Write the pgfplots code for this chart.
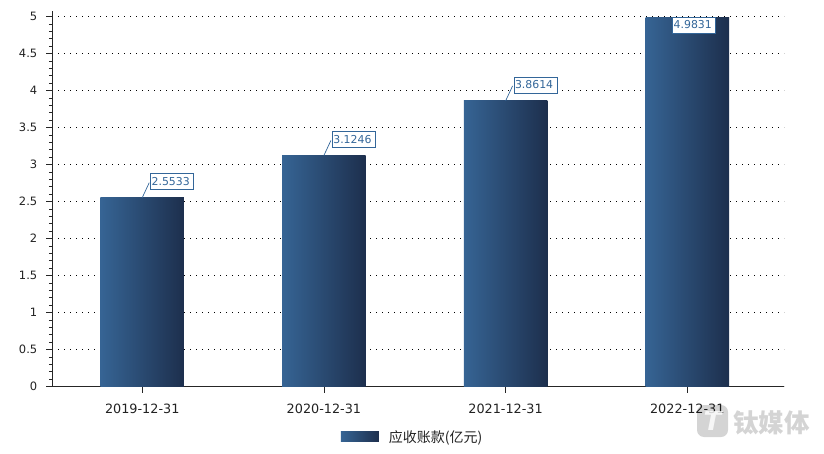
\documentclass[border=0pt]{standalone}
\usepackage{fontspec}
\usepackage{pgfplots}
\pgfplotsset{compat=1.18}
\setmainfont{DejaVu Sans}
\newfontfamily\cjk{Noto Sans CJK SC}
\definecolor{barL}{HTML}{366494}
\definecolor{barR}{HTML}{1D2F4D}
\definecolor{lab}{HTML}{336699}
\definecolor{txt}{HTML}{222222}
\begin{document}
\begin{tikzpicture}[x=1pt,y=1pt]
\path[use as bounding box] (0,0) rectangle (824,453);
\begin{axis}[
  at={(52.3pt,66.4pt)}, anchor=south west,
  scale only axis, width=732pt, height=376pt,
  xmin=-0.495, xmax=3.534, ymin=0, ymax=5.082,
  axis x line=bottom, axis y line=left,
  axis line style={-, line width=0.9pt, color=black!85},
  clip=false,
  ybar, bar width=83.5pt,
  xtick={0,1,2,3},
  xticklabels={2019-12-31,2020-12-31,2021-12-31,2022-12-31},
  ytick={0,0.5,1,1.5,2,2.5,3,3.5,4,4.5,5},
  minor y tick num=4,
  tick align=outside,
  major tick length=6pt, minor tick length=3.5pt,
  tick style={line width=0.8pt, color=black!85},
  ymajorgrids,
  y grid style={dash pattern=on 1pt off 5pt, line width=0.9pt, color=black},
  /pgf/number format/assume math mode=true,
  xticklabel style={font=\fontsize{12.8}{14}\selectfont, text=txt, yshift=-7.5pt},
  yticklabel style={font=\fontsize{11.5}{14}\selectfont, text=txt, xshift=-5.5pt},
  legend style={at={(0.394,-0.134)}, anchor=west, draw=none, fill=none, inner sep=0pt,
    font=\fontsize{14}{15}\selectfont\cjk, text=txt},
  legend image code/.code={\shade[left color=barL, right color=barR, draw=none] (0pt,-5pt) rectangle (38pt,5pt); \path (0pt,0pt) (46pt,0pt);},
  legend cell align=left,
]
\addplot[ybar, bar shift=0pt, draw=none, shade, shading angle=0, left color=barL, right color=barR]
  coordinates {(0,2.5533)};
\addlegendentry{应收账款(亿元)}
\addplot[forget plot, ybar, bar shift=0pt, draw=none, shade, shading angle=0, left color=barL, right color=barR]
  coordinates {(1,3.1246)};
\addplot[forget plot, ybar, bar shift=0pt, draw=none, shade, shading angle=0, left color=barL, right color=barR]
  coordinates {(2,3.8614)};
\addplot[forget plot, ybar, bar shift=0pt, draw=none, shade, shading angle=0, left color=barL, right color=barR]
  coordinates {(3,4.9831)};
\tikzset{lb/.style={anchor=west, draw=lab, fill=white, line width=0.8pt, text=lab,
  inner xsep=1pt, inner ysep=0pt, minimum height=16pt, text width=41pt, align=left, font=\fontsize{10.9}{13}\selectfont}}
\draw[lab, line width=0.7pt] (axis cs:0,2.5533) -- ++(7pt,15pt);
\draw[lab, line width=0.7pt] (axis cs:1,3.1246) -- ++(7pt,15pt);
\draw[lab, line width=0.7pt] (axis cs:2,3.8614) -- ++(7pt,15pt);
\node[lb] at ([xshift=8pt,yshift=16pt]axis cs:0,2.5533) {2.5533};
\node[lb] at ([xshift=8pt,yshift=16pt]axis cs:1,3.1246) {3.1246};
\node[lb] at ([xshift=8pt,yshift=16pt]axis cs:2,3.8614) {3.8614};
\node[lb] at ([xshift=-15pt,yshift=-7pt]axis cs:3,4.9831) {4.9831};
\end{axis}
\fill[black, opacity=0.17, rounded corners=7pt] (697,16) rectangle (728,48);
\node[text=white, opacity=0.8, font=\fontsize{26}{26}\selectfont\bfseries\itshape] at (712.5,32) {T};
\node[anchor=west, inner sep=0pt, text=black, opacity=0.17, font=\fontsize{25.5}{26}\selectfont\cjk\bfseries] at (733,30) {钛媒体};
\end{tikzpicture}
\end{document}
